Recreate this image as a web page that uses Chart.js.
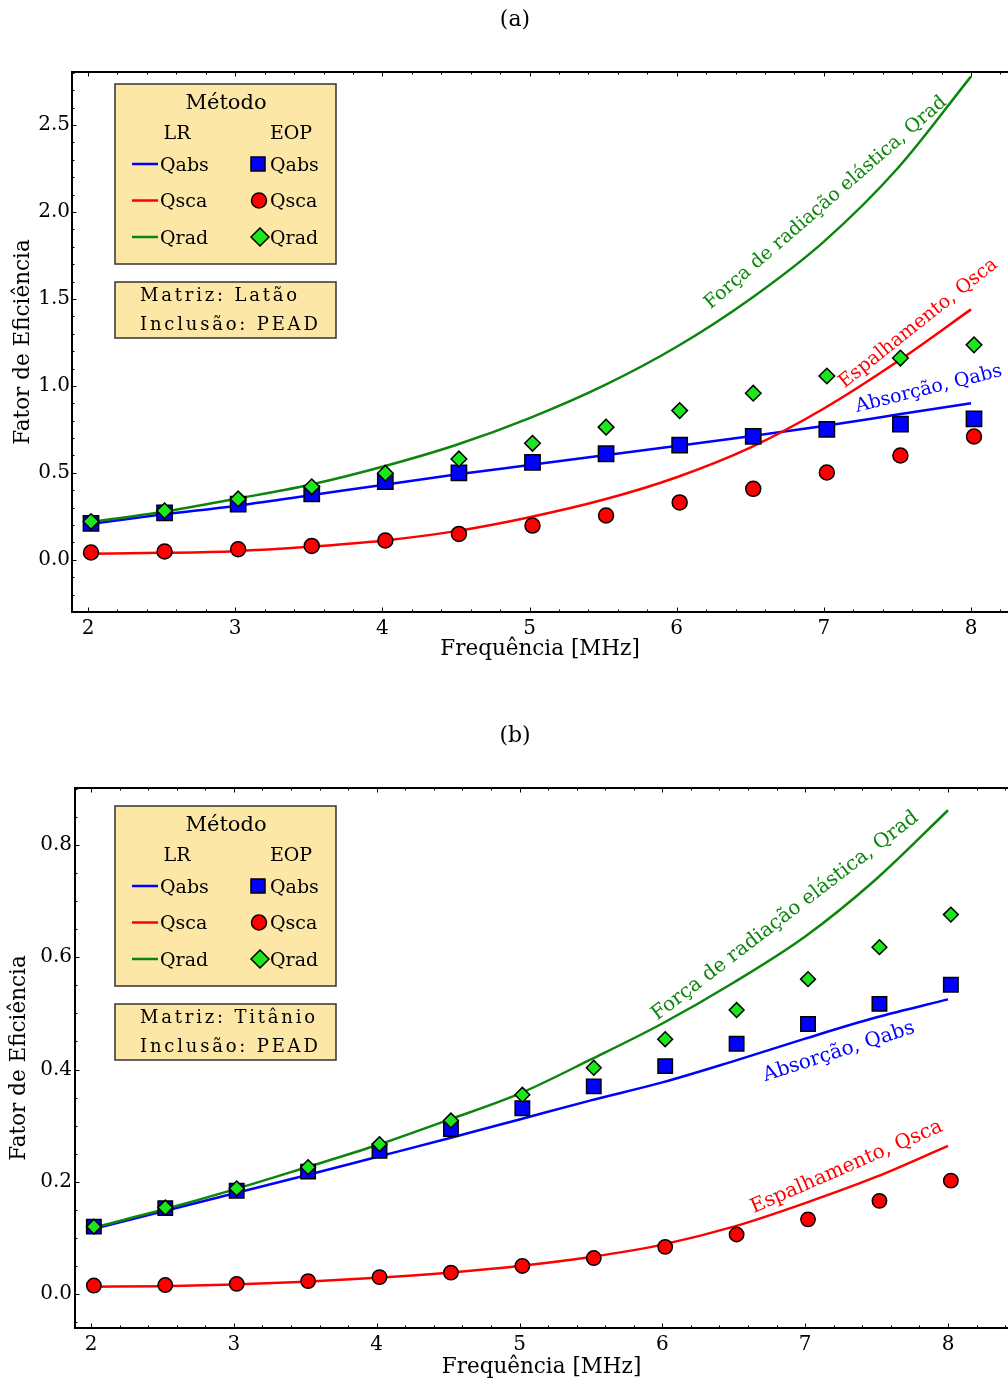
<!DOCTYPE html>
<html>
<head>
<meta charset="utf-8">
<script src="https://cdn.jsdelivr.net/npm/chart.js@4.4.0/dist/chart.umd.min.js"></script>
<style>
    html, body { margin: 0; padding: 0; background: #fff; }
    body { width: 1008px; height: 1381px; position: relative; overflow: hidden; font-family: "DejaVu Serif", serif; }
    .panel { position: absolute; left: 0; width: 1008px; }
    .tag { position: absolute; left: 0; width: 1030px; text-align: center; font-size: 22px; line-height: 26px; color: #000; }
</style>
</head>
<body>
<div class="panel" style="top:0;height:690px"><canvas id="chartA"></canvas></div>
<div class="panel" style="top:690px;height:691px"><canvas id="chartB"></canvas></div>
<div class="tag" style="top:6px">(a)</div>
<div class="tag" style="top:722px">(b)</div>
<script>
// frequencies (MHz)
const freq = [2, 2.5, 3, 3.5, 4, 4.5, 5, 5.5, 6, 6.5, 7, 7.5, 8];
const freqEOP = [2.02, 2.52, 3.02, 3.52, 4.02, 4.52, 5.02, 5.52, 6.02, 6.52, 7.02, 7.52, 8.02];

// (a) Matriz: Latão
const lrAbsA = [0.205, 0.26, 0.31, 0.37, 0.43, 0.49, 0.545, 0.60, 0.655, 0.71, 0.77, 0.835, 0.90];
const lrScaA = [0.035, 0.04, 0.05, 0.075, 0.11, 0.165, 0.245, 0.345, 0.475, 0.645, 0.87, 1.14, 1.44];
const lrRadA = [0.215, 0.275, 0.35, 0.43, 0.535, 0.66, 0.815, 1.0, 1.225, 1.5, 1.83, 2.25, 2.78];
const eopAbsA = [0.21, 0.27, 0.32, 0.38, 0.45, 0.50, 0.56, 0.61, 0.66, 0.71, 0.75, 0.78, 0.81];
const eopScaA = [0.042, 0.048, 0.061, 0.08, 0.111, 0.149, 0.197, 0.255, 0.33, 0.408, 0.502, 0.60, 0.709];
const eopRadA = [0.22, 0.282, 0.35, 0.42, 0.498, 0.58, 0.67, 0.763, 0.858, 0.958, 1.057, 1.16, 1.236];

// (b) Matriz: Titânio
const lrAbsB = [0.115, 0.147, 0.179, 0.211, 0.244, 0.277, 0.311, 0.345, 0.377, 0.415, 0.455, 0.493, 0.525];
const lrScaB = [0.013, 0.014, 0.017, 0.022, 0.029, 0.038, 0.05, 0.066, 0.088, 0.12, 0.162, 0.209, 0.264];
const lrRadB = [0.117, 0.15, 0.186, 0.225, 0.265, 0.31, 0.357, 0.418, 0.482, 0.555, 0.637, 0.74, 0.862];
const eopAbsB = [0.12, 0.153, 0.184, 0.218, 0.255, 0.294, 0.331, 0.37, 0.406, 0.446, 0.481, 0.517, 0.551];
const eopScaB = [0.015, 0.016, 0.018, 0.023, 0.030, 0.038, 0.05, 0.064, 0.084, 0.106, 0.133, 0.166, 0.202];
const eopRadB = [0.12, 0.154, 0.188, 0.226, 0.267, 0.309, 0.355, 0.403, 0.454, 0.506, 0.561, 0.618, 0.676];

// tick labels
const ticksX = [2, 3, 4, 5, 6, 7, 8];
const ticksYA = [0, 0.5, 1.0, 1.5, 2.0, 2.5];
const ticksYB = [0, 0.2, 0.4, 0.6, 0.8];

const FONT = "'DejaVu Serif', serif";
const colAbs = "#0000ff";
const colSca = "#ff0000";
const colRad = "#0c850c";
const colRadPt = "#1ee61e";
const boxFill = "#fde7a7";

function lineSet(label, data, color) {
    return {
        type: "line",
        label,
        data: freq.map((f, i) => ({ x: f, y: data[i] })),
        borderColor: color,
        borderWidth: 2.5,
        pointRadius: 0,
        cubicInterpolationMode: "monotone",
        fill: false,
        order: 5
    };
}

function pointSet(label, data, style, fill, radius, order) {
    return {
        type: "scatter",
        label,
        data: freqEOP.map((f, i) => ({ x: f, y: data[i] })),
        showLine: false,
        pointStyle: style,
        pointRadius: radius,
        pointHoverRadius: radius,
        backgroundColor: fill,
        borderColor: "#000",
        borderWidth: 1.5,
        order
    };
}

function minorValues(min, max, step) {
    const vals = [];
    for (let k = Math.ceil(min / step - 1e-9); k * step <= max + 1e-9; k++) vals.push(k * step);
    return vals;
}

// frame with inward ticks, like the original figure
const framePlugin = {
    id: "frame",
    afterDatasetsDraw(chart, args, opts) {
        const { ctx, chartArea: a, scales } = chart;
        const x = scales.x, y = scales.y;
        ctx.save();
        ctx.strokeStyle = "#000";
        ctx.lineWidth = 1;
        const mark = (scale, horizontal, values, len) => {
            values.forEach(v => {
                const p = Math.round(scale.getPixelForValue(v)) + 0.5;
                ctx.beginPath();
                if (horizontal) {
                    if (p < a.left || p > a.right) return;
                    ctx.moveTo(p, a.bottom); ctx.lineTo(p, a.bottom - len);
                    ctx.moveTo(p, a.top); ctx.lineTo(p, a.top + len);
                } else {
                    if (p < a.top || p > a.bottom) return;
                    ctx.moveTo(a.left, p); ctx.lineTo(a.left + len, p);
                }
                ctx.stroke();
            });
        };
        mark(x, true, minorValues(x.min, x.max, 0.2), 2.5);
        mark(x, true, ticksX, 4.5);
        mark(y, false, minorValues(y.min, y.max, opts.minorY), 2.5);
        mark(y, false, opts.majorY, 4.5);

        ctx.lineWidth = 2;
        ctx.beginPath();
        ctx.moveTo(a.right + 2, a.top);
        ctx.lineTo(a.left, a.top);
        ctx.lineTo(a.left, a.bottom);
        ctx.lineTo(a.right + 2, a.bottom);
        ctx.stroke();

        // labels written along the curves
        ctx.font = opts.labelSize + "px " + FONT;
        ctx.textAlign = "left";
        ctx.textBaseline = "alphabetic";
        opts.curveLabels.forEach(l => {
            ctx.save();
            ctx.translate(x.getPixelForValue(l.x), y.getPixelForValue(l.y));
            ctx.rotate(l.angle * Math.PI / 180);
            ctx.fillStyle = l.color;
            ctx.fillText(l.text, 0, 0);
            ctx.restore();
        });
        ctx.restore();
    },
    afterDraw(chart, args, opts) {
        const ctx = chart.ctx;
        const t = opts.boxTop;
        ctx.save();
        ctx.fillStyle = boxFill;
        ctx.strokeStyle = "#333";
        ctx.lineWidth = 1.5;
        ctx.fillRect(115, t, 221, 180);
        ctx.strokeRect(115, t, 221, 180);
        ctx.fillRect(115, t + 198, 221, 56);
        ctx.strokeRect(115, t + 198, 221, 56);

        ctx.fillStyle = "#000";
        ctx.textBaseline = "middle";
        ctx.textAlign = "center";
        ctx.font = "21px " + FONT;
        ctx.fillText("Método", 226, t + 20);
        ctx.font = "19px " + FONT;
        ctx.fillText("LR", 177, t + 50);
        ctx.fillText("EOP", 291, t + 50);

        const rows = [
            { name: "abs", color: colAbs, fill: colAbs, shape: "square" },
            { name: "sca", color: colSca, fill: colSca, shape: "circle" },
            { name: "rad", color: colRad, fill: colRadPt, shape: "diamond" }
        ];
        rows.forEach((r, i) => {
            const yy = t + 81 + i * 36.5;
            ctx.strokeStyle = r.color;
            ctx.lineWidth = 2.5;
            ctx.beginPath();
            ctx.moveTo(132, yy - 1); ctx.lineTo(158, yy - 1);
            ctx.stroke();
            ctx.fillStyle = r.fill;
            ctx.strokeStyle = "#000";
            ctx.lineWidth = 1.5;
            ctx.beginPath();
            if (r.shape === "square") ctx.rect(251, yy - 8, 14, 14);
            else if (r.shape === "circle") ctx.arc(259, yy - 1, 7.5, 0, Math.PI * 2);
            else { ctx.moveTo(260, yy - 10); ctx.lineTo(269, yy - 1); ctx.lineTo(260, yy + 8); ctx.lineTo(251, yy - 1); ctx.closePath(); }
            ctx.fill();
            ctx.stroke();
            ctx.fillStyle = "#000";
            ctx.textAlign = "left";
            ctx.font = "19px " + FONT;
            ctx.fillText("Q" + r.name, 160, yy + 1);
            ctx.fillText("Q" + r.name, 270, yy + 1);
        });

        ctx.font = "18px " + FONT;
        ctx.letterSpacing = "2.8px";
        ctx.fillText(opts.matriz, 140, t + 212);
        ctx.fillText("Inclusão: PEAD", 140, t + 241);
        ctx.restore();
    }
};

function makePanel(id, p) {
    const datasets = [
        pointSet("EOP Qrad", p.eopRad, "rectRot", colRadPt, p.rDiamond, 0),
        pointSet("EOP Qabs", p.eopAbs, "rect", colAbs, p.rSquare, 1),
        pointSet("EOP Qsca", p.eopSca, "circle", colSca, p.rCircle, 2),
        lineSet("LR Qrad", p.lrRad, colRad),
        lineSet("LR Qsca", p.lrSca, colSca),
        lineSet("LR Qabs", p.lrAbs, colAbs)
    ];
    return new Chart(document.getElementById(id), {
        type: "scatter",
        data: { datasets },
        plugins: [framePlugin],
        options: {
            responsive: true,
            maintainAspectRatio: false,
            animation: false,
            events: [],
            layout: { autoPadding: false, padding: { top: p.padTop, left: 0, right: 0, bottom: 0 } },
            plugins: {
                legend: { display: false },
                tooltip: { enabled: false },
                frame: { majorY: p.ticksY, minorY: p.minorY, curveLabels: p.curveLabels, labelSize: p.labelSize, boxTop: p.boxTop, matriz: p.matriz }
            },
            scales: {
                x: {
                    type: "linear",
                    min: p.xMin,
                    max: p.xMax,
                    afterFit: s => { s.height = p.xHeight; },
                    afterBuildTicks: s => { s.ticks = ticksX.map(v => ({ value: v })); },
                    grid: { display: false, drawTicks: false },
                    border: { display: false },
                    ticks: { font: { family: FONT, size: 20 }, color: "#000", padding: p.xPad, maxRotation: 0, autoSkip: false, callback: v => String(v) },
                    title: { display: true, text: "Frequência [MHz]", font: { family: FONT, size: 21.5 }, color: "#000", padding: { top: 0, bottom: p.xTitlePad } }
                },
                y: {
                    type: "linear",
                    min: p.yMin,
                    max: p.yMax,
                    afterFit: s => { s.width = p.yWidth; },
                    afterBuildTicks: s => { s.ticks = p.ticksY.map(v => ({ value: v })); },
                    grid: { display: false, drawTicks: false },
                    border: { display: false },
                    ticks: { font: { family: FONT, size: 20 }, color: "#000", padding: p.yPad, callback: v => Number(v).toFixed(1) },
                    title: { display: true, text: "Fator de Eficiência", font: { family: FONT, size: 21.5 }, color: "#000", padding: { top: p.yTitlePad, bottom: 0 } }
                }
            }
        }
    });
}

makePanel("chartA", {
    lrAbs: lrAbsA, lrSca: lrScaA, lrRad: lrRadA,
    eopAbs: eopAbsA, eopSca: eopScaA, eopRad: eopRadA,
    xMin: 1.891, xMax: 8.251, yMin: -0.3, yMax: 2.805,
    ticksY: ticksYA, minorY: 0.1,
    padTop: 72, xHeight: 78, yWidth: 72,
    xPad: 5, xTitlePad: 28, yPad: 2, yTitlePad: 11,
    rSquare: 10.8, rCircle: 7.5, rDiamond: 7.8,
    boxTop: 84, matriz: "Matriz: Latão",
    labelSize: 19,
    curveLabels: [
        { text: "Força de radiação elástica, Qrad", x: 6.23, y: 1.44, angle: -41, color: colRad },
        { text: "Espalhamento, Qsca", x: 7.14, y: 0.985, angle: -38.5, color: colSca },
        { text: "Absorção, Qabs", x: 7.225, y: 0.85, angle: -14, color: colAbs }
    ]
});

makePanel("chartB", {
    lrAbs: lrAbsB, lrSca: lrScaB, lrRad: lrRadB,
    eopAbs: eopAbsB, eopSca: eopScaB, eopRad: eopRadB,
    xMin: 1.888, xMax: 8.42, yMin: -0.0606, yMax: 0.9016,
    ticksY: ticksYB, minorY: 0.05,
    padTop: 98, xHeight: 53, yWidth: 75,
    xPad: 5, xTitlePad: 1, yPad: 3, yTitlePad: 7,
    rSquare: 10.2, rCircle: 7.2, rDiamond: 7.4,
    boxTop: 116, matriz: "Matriz: Titânio",
    labelSize: 20,
    curveLabels: [
        { text: "Força de radiação elástica, Qrad", x: 5.965, y: 0.487, angle: -37.5, color: colRad },
        { text: "Absorção, Qabs", x: 6.72, y: 0.379, angle: -18, color: colAbs },
        { text: "Espalhamento, Qsca", x: 6.64, y: 0.144, angle: -23.5, color: colSca }
    ]
});
</script>
</body>
</html>
